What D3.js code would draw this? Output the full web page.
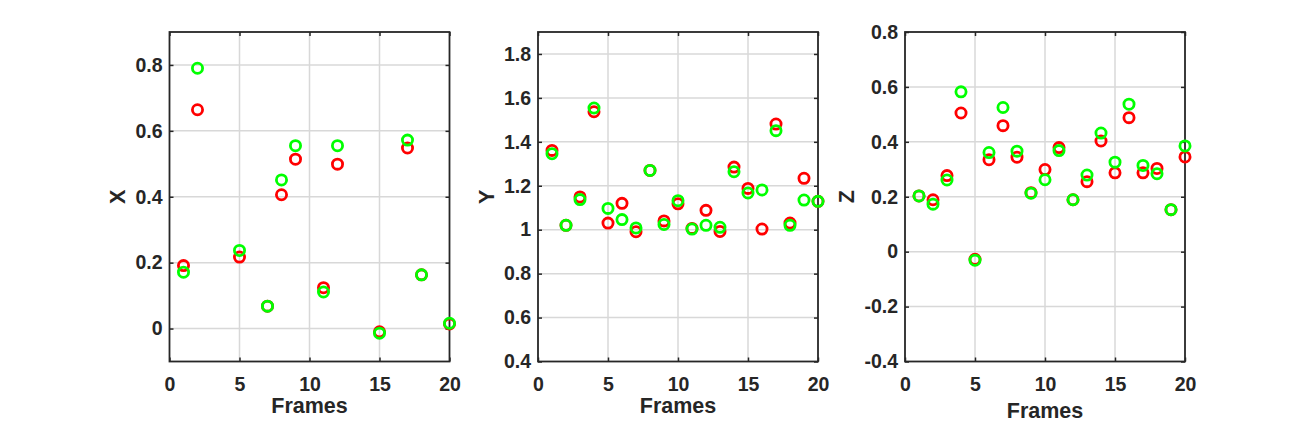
<!DOCTYPE html>
<html>
<head>
<meta charset="utf-8">
<script src="https://cdn.jsdelivr.net/npm/d3@7"></script>
<style>
  html, body { margin: 0; padding: 0; background: #fff; }
  svg text { font-family: Arial, "Liberation Sans", Helvetica, sans-serif; font-weight: bold; fill: #262626; }
</style>
</head>
<body>
<svg id="chart"></svg>
<script>
// frames along the x axis of every panel
let frames = [1, 2, 3, 4, 5, 6, 7, 8, 9, 10, 11, 12, 13, 14, 15, 16, 17, 18, 19, 20];

// null = no sample for that frame
let xRed   = [0.191, 0.664, null, null, 0.217, null, 0.068, 0.406, 0.514, null, 0.124, 0.499, null, null, -0.010, null, 0.548, 0.163, null, 0.014];
let xGreen = [0.171, 0.790, null, null, 0.237, null, 0.068, 0.451, 0.555, null, 0.111, 0.555, null, null, -0.014, null, 0.572, 0.163, null, 0.016];

let yRed   = [1.361, 1.020, 1.149, 1.537, 1.030, 1.120, 0.991, 1.270, 1.040, 1.118, 1.006, 1.088, 0.992, 1.285, 1.188, 1.003, 1.481, 1.030, 1.234, 1.129];
let yGreen = [1.346, 1.020, 1.137, 1.554, 1.097, 1.046, 1.008, 1.270, 1.024, 1.132, 1.003, 1.020, 1.011, 1.264, 1.167, 1.181, 1.451, 1.020, 1.135, 1.129];

let zRed   = [0.203, 0.189, 0.277, 0.505, -0.028, 0.335, 0.459, 0.344, 0.215, 0.299, 0.379, 0.189, 0.255, 0.403, 0.287, 0.488, 0.287, 0.303, 0.153, 0.345];
let zGreen = [0.203, 0.173, 0.261, 0.582, -0.031, 0.361, 0.525, 0.366, 0.213, 0.262, 0.368, 0.189, 0.279, 0.432, 0.326, 0.537, 0.314, 0.284, 0.153, 0.385];

let xTicks = [0, 5, 10, 15, 20];
let panelNames = ['X', 'Y', 'Z'];
let panelDomains = [[-0.1, 0.9], [0.4, 1.9], [-0.4, 0.8]];
let panelTicks = [
    [0, 0.2, 0.4, 0.6, 0.8],
    [0.4, 0.6, 0.8, 1, 1.2, 1.4, 1.6, 1.8],
    [-0.4, -0.2, 0, 0.2, 0.4, 0.6, 0.8]
];
let panelRed = [xRed, yRed, zRed];
let panelGreen = [xGreen, yGreen, zGreen];

let W = 1309, H = 424;
let lefts = [169.5, 538, 905];
let pw = 280;
let pTop = 32, pBottom = 361.5;
let ink = '#262626';
let fmt = d => d3.format('~g')(d).replace('\u2212', '-');

let svg = d3.select('#chart')
    .attr('width', W)
    .attr('height', H);

panelNames.forEach((name, p) => {
    let g = svg.append('g')
        .attr('transform', `translate(${lefts[p]}, 0)`);

    let x = d3.scaleLinear().domain([0, 20]).range([0, pw]);
    let y = d3.scaleLinear().domain(panelDomains[p]).range([pBottom, pTop]);

    // grid
    g.append('g')
        .selectAll('line')
        .data(xTicks.slice(1, -1))
        .join('line')
        .attr('x1', d => x(d)).attr('x2', d => x(d))
        .attr('y1', pTop).attr('y2', pBottom)
        .attr('stroke', '#d8d8d8').attr('stroke-width', 1.5);

    g.append('g')
        .selectAll('line')
        .data(panelTicks[p].filter(t => y(t) > pTop + 1 && y(t) < pBottom - 1))
        .join('line')
        .attr('x1', 0).attr('x2', pw)
        .attr('y1', d => y(d)).attr('y2', d => y(d))
        .attr('stroke', '#d8d8d8').attr('stroke-width', 1.5);

    // axes, ticks pointing inward
    let xAxis = d3.axisBottom(x)
        .tickValues(xTicks)
        .tickSizeInner(-4)
        .tickSizeOuter(0)
        .tickPadding(16);

    let yAxis = d3.axisLeft(y)
        .tickValues(panelTicks[p])
        .tickFormat(fmt)
        .tickSizeInner(-4)
        .tickSizeOuter(0)
        .tickPadding(7);

    let $x = g.append('g')
        .attr('transform', `translate(0, ${pBottom})`)
        .call(xAxis);
    let $y = g.append('g')
        .call(yAxis);

    g.append('g')
        .attr('transform', `translate(0, ${pTop})`)
        .call(d3.axisTop(x).tickValues(xTicks).tickSizeInner(-4).tickSizeOuter(0).tickFormat(''));
    g.append('g')
        .attr('transform', `translate(${pw}, 0)`)
        .call(d3.axisRight(y).tickValues(panelTicks[p]).tickSizeInner(-4).tickSizeOuter(0).tickFormat(''));

    g.selectAll('.domain').remove();
    g.selectAll('.tick line').attr('stroke', ink).attr('stroke-width', 1.5);
    g.selectAll('.tick text')
        .attr('font-size', 19.5)
        .attr('font-family', null)
        .attr('fill', ink);

    g.append('rect')
        .attr('x', 0).attr('y', pTop)
        .attr('width', pw).attr('height', pBottom - pTop)
        .attr('fill', 'none')
        .attr('stroke', ink)
        .attr('stroke-width', 1.8);

    // points, red first then green on top
    [[panelRed[p], '#ff0000'], [panelGreen[p], '#00ff00']].forEach(([vals, col]) => {
        g.append('g')
            .selectAll('circle')
            .data(frames.map((f, i) => [f, vals[i]]).filter(d => d[1] != null))
            .join('circle')
            .attr('cx', d => x(d[0]))
            .attr('cy', d => y(d[1]))
            .attr('r', 5.1)
            .attr('fill', 'none')
            .attr('stroke', col)
            .attr('stroke-width', 2.8);
    });

    // labels
    g.append('text')
        .attr('x', pw / 2)
        .attr('y', p == 2 ? 418 : 413)
        .attr('text-anchor', 'middle')
        .attr('font-size', 21.5)
        .text('Frames');

    let tw = d3.max($y.selectAll('.tick text').nodes(), n => n.getBBox().width);
    g.append('text')
        .attr('transform', `translate(${-tw - 17}, ${(pTop + pBottom) / 2}) rotate(-90)`)
        .attr('text-anchor', 'middle')
        .attr('font-size', 21.5)
        .text(name);
});
</script>
</body>
</html>
